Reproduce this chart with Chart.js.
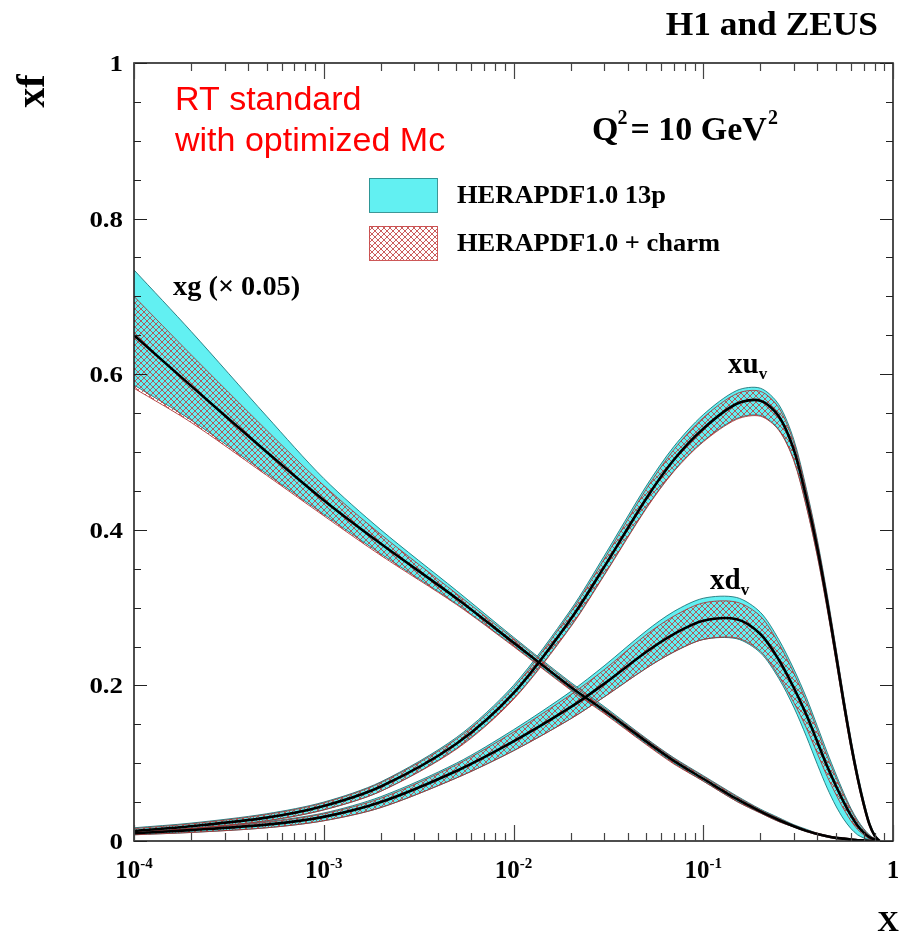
<!DOCTYPE html>
<html>
<head>
<meta charset="utf-8">
<script src="https://cdn.jsdelivr.net/npm/chart.js@4.4.0/dist/chart.umd.min.js"></script>
<style>
  html, body { margin: 0; padding: 0; background: #fff; }
  canvas { display: block; }
</style>
</head>
<body>
<canvas id="pdf" width="900" height="936"></canvas>
<script>
// x grid shared by all curves
const xs = [1e-4, 2e-4, 5e-4, 1e-3, 2e-3, 5e-3, 1e-2, 2e-2, 3e-2, 5e-2, 7e-2, 0.1, 0.15, 0.2, 0.25, 0.3, 0.35, 0.4, 0.45, 0.5, 0.55, 0.6, 0.65, 0.7, 0.75, 0.8, 0.85];

// xg (x 0.05)
const xgCentral = [.650, .585, .500, .438, .382, .312, .255, .198, .168, .128, .103, .080, .054, .038, .027, .019, .013, .009, .006, .004, .003, .002, .001, .001, 0, 0, 0];
const xgCyanHi  = [.734, .655, .546, .466, .400, .322, .262, .204, .173, .132, .107, .084, .058, .041, .030, .021, .015, .010, .007, .005, .004, .003, .002, .001, .001, 0, 0];
const xgCyanLo  = [.586, .541, .472, .420, .369, .305, .251, .195, .165, .125, .100, .077, .051, .036, .025, .018, .012, .008, .005, .003, .002, .001, .001, 0, 0, 0, 0];
const xgHatchHi = [.700, .625, .528, .457, .394, .318, .260, .202, .171, .131, .106, .083, .057, .040, .029, .020, .014, .010, .007, .005, .004, .003, .002, .001, .001, 0, 0];
const xgHatchLo = [.582, .538, .470, .418, .367, .304, .250, .194, .164, .124, .099, .077, .051, .036, .025, .018, .012, .008, .005, .003, .002, .001, .001, 0, 0, 0, 0];

// xu_v
const xuCentral = [.013, .019, .030, .045, .070, .125, .190, .285, .352, .440, .490, .530, .562, .566, .546, .503, .440, .375, .307, .240, .178, .125, .082, .048, .022, .007, 0];
const xuCyanHi  = [.017, .023, .035, .050, .076, .133, .200, .297, .366, .456, .507, .548, .579, .582, .561, .516, .452, .386, .317, .249, .186, .132, .088, .053, .025, .009, 0];
const xuCyanLo  = [.010, .016, .026, .040, .064, .119, .183, .276, .342, .428, .476, .514, .543, .547, .529, .490, .430, .366, .299, .233, .172, .120, .078, .045, .020, .006, 0];
const xuHatchHi = [.016, .022, .034, .049, .075, .131, .197, .294, .362, .452, .503, .544, .575, .578, .557, .512, .449, .383, .314, .247, .184, .130, .086, .051, .024, .008, 0];
const xuHatchLo = [.010, .016, .026, .040, .064, .118, .182, .275, .341, .427, .475, .513, .542, .546, .528, .489, .429, .365, .298, .232, .171, .119, .077, .044, .019, .006, 0];

// xd_v
const xdCentral = [.010, .014, .021, .031, .050, .090, .128, .172, .202, .243, .266, .283, .285, .266, .233, .197, .162, .127, .096, .071, .050, .033, .020, .011, .005, .002, 0];
const xdCyanHi  = [.012, .017, .025, .036, .057, .100, .143, .192, .225, .270, .295, .312, .313, .294, .259, .221, .184, .147, .114, .086, .062, .042, .027, .016, .008, .003, 0];
const xdCyanLo  = [.008, .011, .017, .026, .043, .081, .116, .157, .185, .222, .243, .259, .260, .242, .209, .172, .134, .098, .068, .045, .028, .016, .008, .004, .002, .001, 0];
const xdHatchHi = [.012, .016, .024, .035, .055, .098, .140, .188, .220, .265, .289, .306, .307, .289, .254, .216, .179, .142, .109, .082, .059, .040, .025, .015, .007, .003, 0];
const xdHatchLo = [.008, .011, .017, .026, .043, .081, .116, .157, .185, .222, .243, .259, .261, .244, .212, .178, .145, .112, .083, .060, .041, .026, .015, .008, .003, .001, 0];

// axes
const yMajor = [0, 0.2, 0.4, 0.6, 0.8, 1];
const yLabels = ['0', '0.2', '0.4', '0.6', '0.8', '1'];
const xDecades = [1e-4, 1e-3, 1e-2, 1e-1, 1];
const xLabels = [['10', '-4'], ['10', '-3'], ['10', '-2'], ['10', '-1'], ['1', '']];

const SERIF = '"Liberation Serif", "Times New Roman", serif';
const SANS = '"Liberation Sans", Arial, sans-serif';
const CYAN = '#62f0f2';
const CYAN_EDGE = 'rgba(20,110,115,0.85)';
const RED_EDGE = 'rgba(170,50,50,0.85)';

function makeHatch() {
  const p = document.createElement('canvas');
  p.width = 6; p.height = 6;
  const g = p.getContext('2d');
  g.strokeStyle = 'rgba(190,55,55,0.8)';
  g.lineWidth = 1;
  g.beginPath();
  g.moveTo(-1, -1); g.lineTo(7, 7);
  g.moveTo(7, -1); g.lineTo(-1, 7);
  g.stroke();
  return g.createPattern(p, 'repeat');
}
const hatch = makeHatch();

const pts = arr => xs.map((x, i) => ({ x: x, y: arr[i] }));

function band(hi, lo, fillStyle, edge, order) {
  return [
    { data: pts(hi), fill: '+1', backgroundColor: fillStyle, borderColor: edge, borderWidth: 1, order: order },
    { data: pts(lo), fill: false, borderColor: edge, borderWidth: 1, order: order - 0.5 }
  ];
}
function central(arr) {
  return { data: pts(arr), fill: false, borderColor: '#000', borderWidth: 2.6, order: 1 };
}

const datasets = [
  ...band(xgCyanHi, xgCyanLo, CYAN, CYAN_EDGE, 10),
  ...band(xuCyanHi, xuCyanLo, CYAN, CYAN_EDGE, 10),
  ...band(xdCyanHi, xdCyanLo, CYAN, CYAN_EDGE, 10),
  ...band(xgHatchHi, xgHatchLo, hatch, RED_EDGE, 6),
  ...band(xuHatchHi, xuHatchLo, hatch, RED_EDGE, 6),
  ...band(xdHatchHi, xdHatchLo, hatch, RED_EDGE, 6),
  central(xgCentral),
  central(xuCentral),
  central(xdCentral)
];

// text helper: horizontal stretch sx
function txt(ctx, s, x, y, size, opts) {
  opts = opts || {};
  const sx = opts.sx || 1.1;
  ctx.save();
  ctx.font = (opts.weight || 'bold') + ' ' + size + 'px ' + (opts.family || SERIF);
  ctx.fillStyle = opts.color || '#000';
  ctx.textBaseline = 'alphabetic';
  const w = ctx.measureText(s).width * sx;
  let x0 = x;
  if (opts.align === 'right') x0 = x - w;
  else if (opts.align === 'center') x0 = x - w / 2;
  ctx.translate(x0, y);
  ctx.scale(sx, 1);
  ctx.fillText(s, 0, 0);
  ctx.restore();
  return w;
}
function width(ctx, s, size, sx) {
  ctx.save();
  ctx.font = 'bold ' + size + 'px ' + SERIF;
  const w = ctx.measureText(s).width * (sx || 1.1);
  ctx.restore();
  return w;
}

const decor = {
  id: 'decor',
  afterDraw(chart) {
    const ctx = chart.ctx;
    const a = chart.chartArea;
    const xs_ = chart.scales.x, ys_ = chart.scales.y;

    // frame
    ctx.save();
    ctx.strokeStyle = '#222';
    ctx.lineWidth = 1.6;
    ctx.strokeRect(a.left, a.top, a.right - a.left, a.bottom - a.top);

    // y ticks, both sides
    ctx.lineWidth = 1.2;
    for (let v = 0; v <= 1.0001; v += 0.05) {
      const py = Math.round(ys_.getPixelForValue(v)) + 0.5;
      const major = yMajor.some(m => Math.abs(m - v) < 1e-6);
      const len = major ? 13 : 7;
      ctx.beginPath();
      ctx.moveTo(a.left, py); ctx.lineTo(a.left + len, py);
      ctx.moveTo(a.right, py); ctx.lineTo(a.right - len, py);
      ctx.stroke();
    }
    // x ticks, bottom and top
    ctx.strokeStyle = '#444';
    xDecades.forEach((d, i) => {
      const px = Math.round(xs_.getPixelForValue(d)) + 0.5;
      ctx.beginPath();
      ctx.moveTo(px, a.bottom); ctx.lineTo(px, a.bottom - 16);
      ctx.moveTo(px, a.top); ctx.lineTo(px, a.top + 16);
      ctx.stroke();
      if (i < xDecades.length - 1) {
        for (let k = 2; k <= 9; k++) {
          const qx = Math.round(xs_.getPixelForValue(d * k)) + 0.5;
          ctx.beginPath();
          ctx.moveTo(qx, a.bottom); ctx.lineTo(qx, a.bottom - 8);
          ctx.moveTo(qx, a.top); ctx.lineTo(qx, a.top + 8);
          ctx.stroke();
        }
      }
    });
    ctx.restore();

    // y tick labels
    yMajor.forEach((v, i) => {
      txt(ctx, yLabels[i], a.left - 11, ys_.getPixelForValue(v) + 8, 24, { align: 'right', sx: 1.12 });
    });
    // x tick labels
    xDecades.forEach((d, i) => {
      const px = xs_.getPixelForValue(d);
      const [base, sup] = xLabels[i];
      const wb = width(ctx, base, 25, 1.0);
      const ws = sup ? width(ctx, sup, 15, 1.0) : 0;
      const x0 = px - (wb + ws) / 2;
      txt(ctx, base, x0, a.bottom + 37, 25, { sx: 1.0 });
      if (sup) txt(ctx, sup, x0 + wb, a.bottom + 27, 15, { sx: 1.0 });
    });

    // axis titles
    txt(ctx, 'X', 888, 931, 30, { align: 'center', sx: 1.0 });
    ctx.save();
    ctx.translate(44, 91);
    ctx.rotate(-Math.PI / 2);
    txt(ctx, 'xf', 0, 0, 40, { align: 'center', sx: 1.0 });
    ctx.restore();

    // header
    txt(ctx, 'H1 and ZEUS', 878, 35, 34, { align: 'right', sx: 1.04 });

    // red annotation
    txt(ctx, 'RT standard', 175, 110, 34, { weight: 'normal', family: SANS, color: '#f00', sx: 1.0 });
    txt(ctx, 'with optimized Mc', 175, 151, 34, { weight: 'normal', family: SANS, color: '#f00', sx: 1.0 });

    // Q^2 label
    let qx = 592;
    qx += txt(ctx, 'Q', qx, 140, 34, { sx: 1.0 });
    txt(ctx, '2', qx - 1, 124, 20, { sx: 1.0 });
    qx += 12;
    qx += txt(ctx, '= 10 GeV', qx, 140, 34, { sx: 1.0 });
    txt(ctx, '2', qx + 1, 124, 20, { sx: 1.0 });

    // legend
    ctx.save();
    ctx.fillStyle = CYAN;
    ctx.fillRect(369, 178, 68, 34);
    ctx.strokeStyle = 'rgba(40,140,140,0.9)';
    ctx.lineWidth = 1;
    ctx.strokeRect(369.5, 178.5, 68, 34);
    ctx.fillStyle = '#fff';
    ctx.fillRect(369, 226, 68, 34);
    ctx.fillStyle = hatch;
    ctx.fillRect(369, 226, 68, 34);
    ctx.strokeStyle = 'rgba(200,70,70,0.9)';
    ctx.strokeRect(369.5, 226.5, 68, 34);
    ctx.restore();
    txt(ctx, 'HERAPDF1.0 13p', 457, 203, 25, { sx: 1.06 });
    txt(ctx, 'HERAPDF1.0 + charm', 457, 251, 25, { sx: 1.06 });

    // curve labels
    txt(ctx, 'xg (\u00d7 0.05)', 173, 295, 27, { sx: 1.05 });
    let ux = 728;
    ux += txt(ctx, 'xu', ux, 373, 29, { sx: 1.0 });
    txt(ctx, 'v', ux, 379, 17, { sx: 1.0 });
    let dx = 710;
    dx += txt(ctx, 'xd', dx, 589, 29, { sx: 1.0 });
    txt(ctx, 'v', dx, 595, 17, { sx: 1.0 });
  }
};

new Chart(document.getElementById('pdf').getContext('2d'), {
  type: 'line',
  data: { datasets: datasets },
  options: {
    responsive: false,
    animation: false,
    devicePixelRatio: 1,
    layout: { padding: { left: 134, right: 7, top: 63, bottom: 95 } },
    elements: {
      point: { radius: 0 },
      line: { tension: 0.3 }
    },
    scales: {
      x: { type: 'logarithmic', min: 1e-4, max: 1, display: false },
      y: { type: 'linear', min: 0, max: 1, display: false }
    },
    plugins: {
      legend: { display: false },
      tooltip: { enabled: false },
      filler: { propagate: false }
    }
  },
  plugins: [decor]
});
</script>
</body>
</html>
